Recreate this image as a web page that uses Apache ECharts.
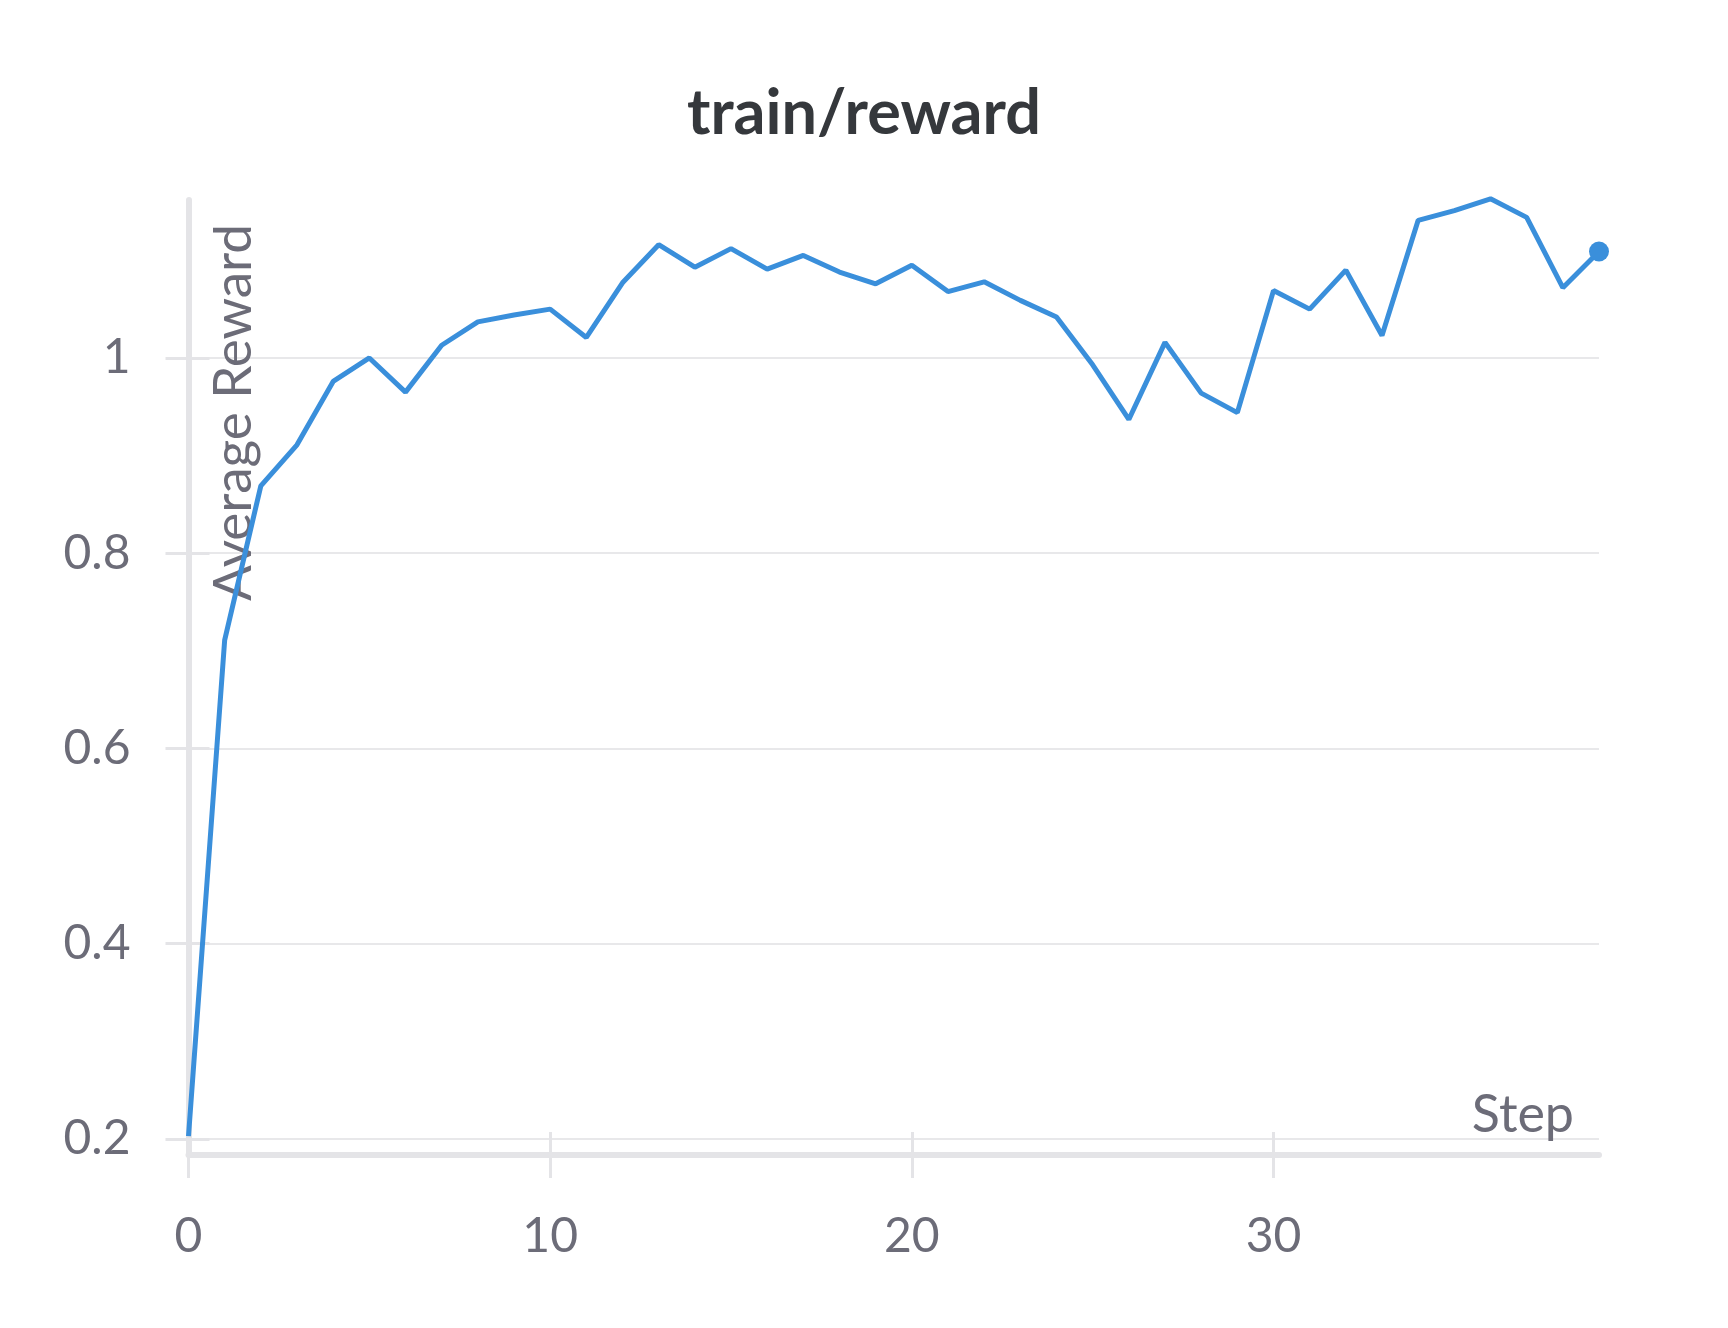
<!DOCTYPE html>
<html>
    <head>
        <meta charset="utf-8" />
        <title>train/reward</title>
        <script src="https://cdn.jsdelivr.net/npm/echarts@6.0.0/dist/echarts.min.js"></script>
        <style>
            html, body { margin: 0; padding: 0; background: #fff; }
        </style>
    </head>
    <body>
        <div id="grafico" style="width: 1728px; height: 1328px"></div>
        <script>
            const steps = [0, 1, 2, 3, 4, 5, 6, 7, 8, 9, 10, 11, 12, 13, 14, 15, 16, 17, 18, 19,
                20, 21, 22, 23, 24, 25, 26, 27, 28, 29, 30, 31, 32, 33, 34, 35, 36, 37, 38, 39];
            const rewards = [0.203, 0.711, 0.869, 0.911, 0.976, 1.0, 0.965, 1.013, 1.037, 1.044,
                1.05, 1.021, 1.077, 1.116, 1.093, 1.112, 1.091, 1.105, 1.088, 1.076,
                1.095, 1.068, 1.078, 1.059, 1.042, 0.993, 0.937, 1.016, 0.964, 0.944,
                1.069, 1.05, 1.09, 1.023, 1.141, 1.151, 1.163, 1.144, 1.072, 1.109];
            const yTicks = [0.2, 0.4, 0.6, 0.8, 1];
            const xTicks = [0, 10, 20, 30];

            const corEixo = "#e4e4e7";
            const corTexto = "#6c6c78";
            const fonte = "Lato";
            const ultimo = steps.length - 1;

            // só o último ponto ganha marcador
            const pontos = steps.map((s, i) =>
                i === ultimo ? {value: [s, rewards[i]], symbolSize: 20} : [s, rewards[i]]
            );

            const chart = echarts.init(document.getElementById("grafico"));
            const option = {
                backgroundColor: "#fff",
                animation: false,
                title: {
                    text: "train/reward",
                    left: "center",
                    top: 77,
                    textStyle: {fontFamily: fonte, fontWeight: "bold", fontSize: 63, color: "#35383c"},
                },
                grid: {left: 188.5, right: 129, top: 200, bottom: 173, outerBoundsMode: "none"},
                xAxis: [
                    {
                        type: "value",
                        position: "bottom",
                        min: 0,
                        max: 39,
                        name: "Step",
                        nameLocation: "end",
                        nameGap: -25,
                        nameMoveOverlap: false,
                        nameTextStyle: {
                            fontFamily: fonte, fontSize: 52, color: corTexto,
                            align: "right", verticalAlign: "bottom", padding: [0, 0, 14, 0],
                        },
                        axisLine: {show: true, onZero: false, lineStyle: {color: corEixo, width: 6}},
                        axisTick: {show: true, length: 23, customValues: xTicks, lineStyle: {color: corEixo, width: 3}},
                        axisLabel: {customValues: xTicks, margin: 58, fontFamily: fonte, fontSize: 48, color: corTexto},
                        splitLine: {show: false},
                    },
                    {
                        type: "value",
                        position: "bottom",
                        min: 0,
                        max: 39,
                        axisLine: {show: false},
                        axisTick: {show: true, inside: true, length: 23, customValues: xTicks, lineStyle: {color: corEixo, width: 3}},
                        axisLabel: {show: false},
                        splitLine: {show: false},
                    },
                ],
                yAxis: [
                    {
                        type: "value",
                        position: "left",
                        min: 0.1836,
                        max: 1.1618,
                        name: "Average Reward",
                        nameLocation: "end",
                        nameRotate: 90,
                        nameGap: -24,
                        nameMoveOverlap: false,
                        nameTextStyle: {
                            fontFamily: fonte, fontSize: 53, color: corTexto,
                            align: "right", verticalAlign: "top", padding: [19, 0, 0, 0],
                        },
                        axisLine: {show: true, onZero: false, lineStyle: {color: corEixo, width: 6}},
                        axisTick: {show: true, length: 23, customValues: yTicks, lineStyle: {color: corEixo, width: 3}},
                        axisLabel: {customValues: yTicks, margin: 58, fontFamily: fonte, fontSize: 48, color: corTexto},
                        splitLine: {show: true, lineStyle: {color: "#e8e8ea", width: 2}},
                    },
                    {
                        type: "value",
                        position: "left",
                        min: 0.1836,
                        max: 1.1618,
                        axisLine: {show: false},
                        axisTick: {show: true, inside: true, length: 21, customValues: yTicks, lineStyle: {color: corEixo, width: 3}},
                        axisLabel: {show: false},
                        splitLine: {show: false},
                    },
                ],
                series: [
                    {
                        type: "line",
                        data: pontos,
                        xAxisIndex: 0,
                        yAxisIndex: 0,
                        symbol: "circle",
                        symbolSize: 0,
                        showAllSymbol: true,
                        clip: false,
                        lineStyle: {color: "#3a8fdb", width: 5},
                        itemStyle: {color: "#3a8fdb"},
                    },
                ],
            };
            chart.setOption(option);
        </script>
    </body>
</html>
